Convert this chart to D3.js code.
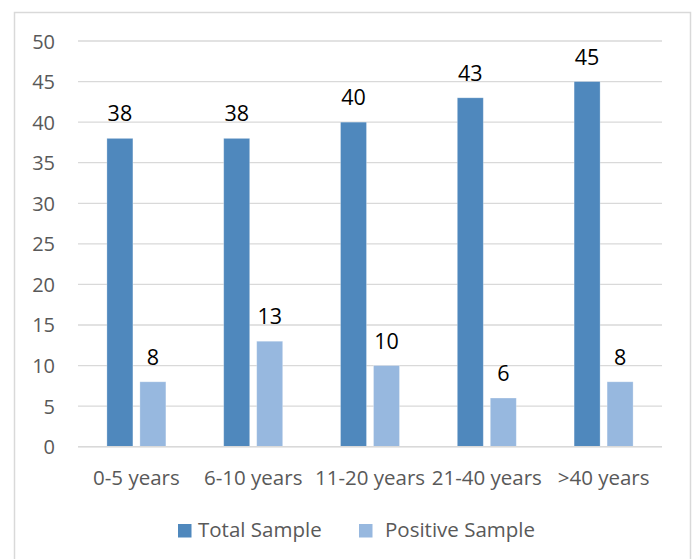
<!DOCTYPE html>
<html>
<head>
<meta charset="utf-8">
<script src="https://cdn.jsdelivr.net/npm/d3@7"></script>
<style>
html,body{margin:0;padding:0;background:#fff;}
svg{display:block;}
</style>
</head>
<body>
<svg id="chart" width="692" height="559"></svg>
<script>
const categories = ["0-5 years", "6-10 years", "11-20 years", "21-40 years", ">40 years"];
const seriesNames = ["Total Sample", "Positive Sample"];
const totalSample = [38, 38, 40, 43, 45];
const positiveSample = [8, 13, 10, 6, 8];
const yTicks = [0, 5, 10, 15, 20, 25, 30, 35, 40, 45, 50];
const colors = ["#4F88BD", "#97B8DF"];

(function () {
const font = "'Open Sans', 'Noto Sans', sans-serif";
const svg = d3.select("#chart");

// chart border
svg.append("rect").attr("x", 14.5).attr("y", 12.5).attr("width", 676).attr("height", 560)
  .attr("fill", "none").attr("stroke", "#d9d9d9").attr("stroke-width", 1.5);

const pLeft = 78, pRight = 662, pTop = 41, pBottom = 446.7;
const x = d3.scaleBand().domain(categories).range([pLeft, pRight]).paddingInner(0.495).paddingOuter(0.2475);
const xs = d3.scaleBand().domain(seriesNames).range([0, x.bandwidth()]).paddingInner(0.2121);
const y = d3.scaleLinear().domain([0, 50]).range([pBottom, pTop]);

// gridlines
svg.append("g").selectAll("line").data(yTicks).join("line")
  .attr("x1", pLeft).attr("x2", pRight)
  .attr("y1", d => y(d)).attr("y2", d => y(d))
  .attr("stroke", "#d9d9d9").attr("stroke-width", 1.3);

// y axis labels
const yAxis = d3.axisLeft(y).tickValues(yTicks).tickSize(0).tickPadding(0);
const ya = svg.append("g").attr("transform", `translate(${55},0)`).call(yAxis);
ya.select(".domain").remove();
ya.selectAll("text").attr("font-family", font).attr("font-size", 20).attr("fill", "#595959")
  .attr("dy", "0.35em");

const data = categories.map((c, i) => ({cat: c, vals: [totalSample[i], positiveSample[i]]}));

const groups = svg.append("g").selectAll("g").data(data).join("g")
  .attr("transform", d => `translate(${x(d.cat)},0)`);

groups.selectAll("rect").data(d => d.vals.map((v, j) => ({name: seriesNames[j], v, j}))).join("rect")
  .attr("x", d => xs(d.name)).attr("width", xs.bandwidth())
  .attr("y", d => y(d.v)).attr("height", d => y(0) - y(d.v))
  .attr("fill", d => colors[d.j])
  .attr("stroke", "#ffffff").attr("stroke-opacity", 0.35).attr("stroke-width", 0.8);

groups.selectAll("text").data(d => d.vals.map((v, j) => ({name: seriesNames[j], v, j}))).join("text")
  .attr("x", d => xs(d.name) + xs.bandwidth() / 2)
  .attr("y", d => y(d.v) - 17)
  .attr("text-anchor", "middle")
  .attr("font-family", font).attr("font-size", 21.5).attr("fill", "#000")
  .text(d => d.v);

// baseline axis
svg.append("line").attr("x1", pLeft).attr("x2", pRight).attr("y1", y(0)).attr("y2", y(0))
  .attr("stroke", "#d9d9d9").attr("stroke-width", 1.5);

// x axis labels
const xAxis = d3.axisBottom(x).tickSize(0).tickPadding(0);
const xa = svg.append("g").attr("transform", `translate(0,${485})`).call(xAxis);
xa.select(".domain").remove();
xa.selectAll("text").attr("font-family", font).attr("font-size", 20.5).attr("fill", "#595959")
  .attr("dy", 0).attr("y", 0);

// legend
const legendItems = [{name: seriesNames[0], sx: 178, tx: 198}, {name: seriesNames[1], sx: 359, tx: 385}];
const lg = svg.append("g");
legendItems.forEach((d, i) => {
  lg.append("rect").attr("x", d.sx).attr("y", 524).attr("width", 13.5).attr("height", 13.5).attr("fill", colors[i]);
  lg.append("text").attr("x", d.tx).attr("y", 537).attr("font-family", font).attr("font-size", 20.5)
    .attr("fill", "#595959").text(d.name);
});
})();
</script>
</body>
</html>
